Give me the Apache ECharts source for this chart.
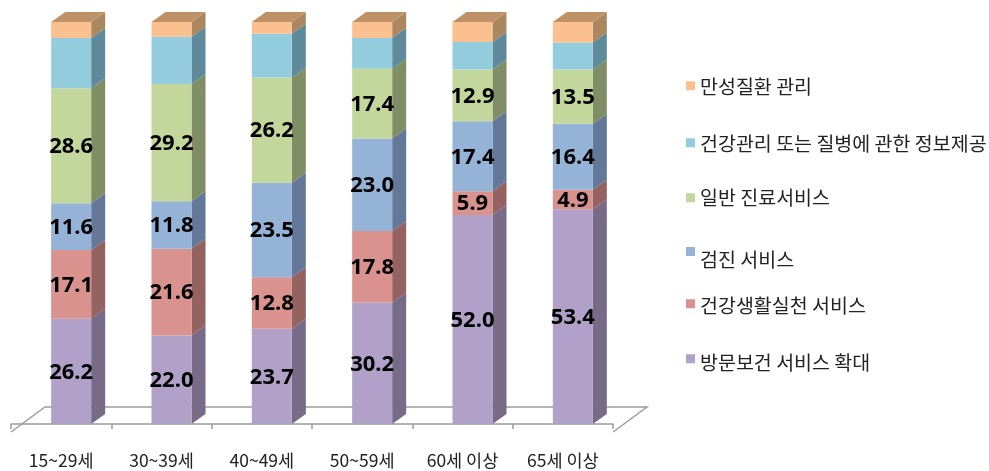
<!DOCTYPE html>
<html>
<head>
<meta charset="utf-8">
<script src="https://cdn.jsdelivr.net/npm/echarts@6/dist/echarts.min.js"></script>
<style>
html, body { margin: 0; padding: 0; background: #fff; }
#main { width: 989px; height: 471px; }
</style>
</head>
<body>
<div id="main"></div>
<script>
var categories = ["15~29세", "30~39세", "40~49세", "50~59세", "60세 이상", "65세 이상"];

var visit = [26.2, 22.0, 23.7, 30.2, 52.0, 53.4];
var lifestyle = [17.1, 21.6, 12.8, 17.8, 5.9, 4.9];
var checkup = [11.6, 11.8, 23.5, 23.0, 17.4, 16.4];
var clinic = [28.6, 29.2, 26.2, 17.4, 12.9, 13.5];
var info = [12.5, 11.7, 10.9, 7.6, 6.8, 6.7];
var chronic = [4.0, 3.7, 2.9, 4.0, 5.0, 5.1];

// 아래에서 위로 쌓는 순서. textDrop: 범례 글자가 네모보다 내려간 만큼
var stackList = [
  { name: "방문보건 서비스 확대", values: visit, front: "#B1A0C7", side: "#776B88", label: true, legendTop: 353, textDrop: 4 },
  { name: "건강생활실천 서비스", values: lifestyle, front: "#D9928E", side: "#946260", label: true, legendTop: 296, textDrop: 2 },
  { name: "검진 서비스", values: checkup, front: "#95B3D7", side: "#64799A", label: true, legendTop: 247, textDrop: 8 },
  { name: "일반 진료서비스", values: clinic, front: "#C3D69B", side: "#7F8E64", label: true, legendTop: 188, textDrop: 0 },
  { name: "건강관리 또는 질병에 관한 정보제공", values: info, front: "#93CDDD", side: "#5F8A9C", label: false, legendTop: 134, textDrop: 1 },
  { name: "만성질환 관리", values: chronic, front: "#FAC090", side: "#AB875F", top: "#BE9266", label: false, legendTop: 77, textDrop: 1 }
];

var barWidth = 40;
var barShift = 10; // 바닥면 안쪽으로 밀린 만큼
var depthX = 14;
var depthY = 10;
var floorFront = 8;
var floorBack = 17;
var floorDepth = 34;

function floorItem(params) {
  var g = params.coordSys;
  var base = g.y + g.height;
  return {
    type: "polyline",
    silent: true,
    shape: {
      points: [
        [g.x, base + floorFront],
        [g.x + floorDepth, base - floorBack],
        [g.x + g.width + floorDepth, base - floorBack],
        [g.x + g.width, base + floorFront]
      ]
    },
    style: { stroke: "#9c9c9c", lineWidth: 1.5, fill: null }
  };
}

function makeBar(conf, isTop) {
  return function (params, api) {
    var low = api.coord([api.value(0), api.value(1)]);
    var high = api.coord([api.value(0), api.value(2)]);
    var x = low[0] - barWidth / 2 + barShift;
    var right = x + barWidth;
    var children = [
      {
        type: "polygon",
        shape: { points: [[right, low[1]], [right + depthX, low[1] - depthY], [right + depthX, high[1] - depthY], [right, high[1]]] },
        style: { fill: conf.side }
      },
      {
        type: "rect",
        shape: { x: x, y: high[1], width: barWidth, height: low[1] - high[1] },
        style: { fill: conf.front }
      }
    ];
    if (isTop) {
      children.push({
        type: "polygon",
        shape: { points: [[x, high[1]], [x + depthX, high[1] - depthY], [right + depthX, high[1] - depthY], [right, high[1]]] },
        style: { fill: conf.top }
      });
    }
    if (conf.label) {
      children.push({
        type: "text",
        z2: 10,
        style: {
          x: x + barWidth / 2,
          y: (low[1] + high[1]) / 2 + 1,
          text: api.value(3).toFixed(1),
          align: "center",
          verticalAlign: "middle",
          fill: "#000",
          font: "bold 22px 'Noto Sans', 'Open Sans', sans-serif"
        }
      });
    }
    return { type: "group", children: children };
  };
}

var running = categories.map(function () { return 0; });
var series = [
  {
    type: "custom",
    name: "floor",
    z: 1,
    silent: true,
    renderItem: floorItem,
    data: [[0, 0]]
  }
];
stackList.forEach(function (conf, n) {
  series.push({
    type: "custom",
    name: conf.name,
    z: 2 + n,
    itemStyle: { color: conf.front },
    renderItem: makeBar(conf, n === stackList.length - 1),
    data: conf.values.map(function (v, i) {
      var from = running[i];
      running[i] = from + v;
      return [i, from, from + v, v];
    })
  });
});

var myChart = echarts.init(document.getElementById("main"));
var option = {
  animation: false,
  backgroundColor: "#fff",
  grid: { left: 11, top: 22, width: 602, height: 402 },
  xAxis: {
    type: "category",
    data: categories,
    offset: floorFront,
    axisLine: { lineStyle: { color: "#9c9c9c", width: 1.5 } },
    axisTick: { show: true, length: 5, lineStyle: { color: "#9c9c9c", width: 1.5 } },
    axisLabel: {
      color: "#222",
      fontSize: 17.5,
      margin: 20,
      interval: 0,
      fontFamily: "'Noto Sans CJK KR', sans-serif"
    }
  },
  yAxis: { type: "value", min: 0, max: 100, show: false },
  legend: stackList.map(function (conf) {
    return {
      data: [conf.name],
      left: 682,
      top: conf.legendTop,
      padding: [0, 0, 0, 4],
      itemWidth: 9,
      itemHeight: 9,
      icon: "rect",
      selectedMode: false,
      formatter: "{t|{name}}",
      textStyle: {
        rich: {
          t: {
            color: "#222",
            fontSize: 19.5,
            padding: [conf.textDrop * 2, 0, 0, 0],
            fontFamily: "'Noto Sans CJK KR', sans-serif"
          }
        }
      }
    };
  }),
  series: series
};
myChart.setOption(option);
</script>
</body>
</html>
